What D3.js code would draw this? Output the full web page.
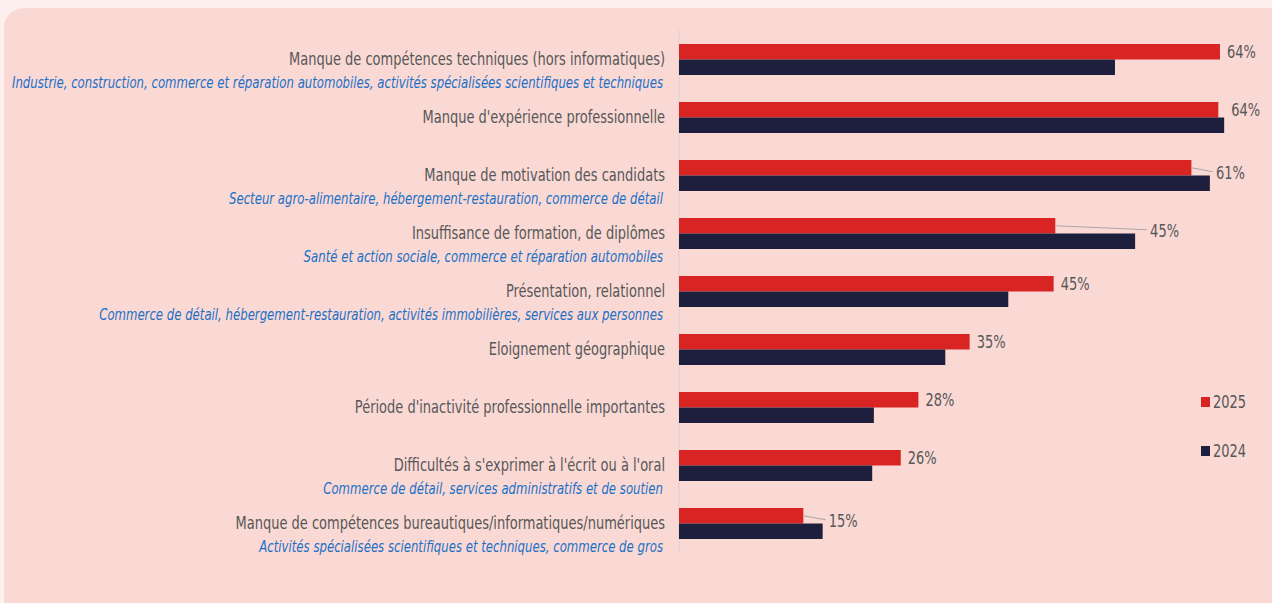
<!DOCTYPE html>
<html>
<head>
<meta charset="utf-8">
<script src="https://cdn.jsdelivr.net/npm/d3@7"></script>
<style>
  html, body { margin: 0; padding: 0; background: #fdf0ee; }
  svg { display: block; }
  .lbl { font-family: "DejaVu Sans Condensed", "DejaVu Sans", sans-serif; }
</style>
</head>
<body>
<svg id="chart" width="1272" height="603"></svg>
<script>
// categories, sub-labels (sectors) and values
var categories = [
  "Manque de compétences techniques (hors informatiques)",
  "Manque d'expérience professionnelle",
  "Manque de motivation des candidats",
  "Insuffisance de formation, de diplômes",
  "Présentation, relationnel",
  "Eloignement géographique",
  "Période d'inactivité professionnelle importantes",
  "Difficultés à s'exprimer à l'écrit ou à l'oral",
  "Manque de compétences bureautiques/informatiques/numériques"
];
var sectors = [
  "Industrie, construction, commerce et réparation automobiles, activités spécialisées scientifiques et techniques",
  "",
  "Secteur agro-alimentaire, hébergement-restauration, commerce de détail",
  "Santé et action sociale, commerce et réparation automobiles",
  "Commerce de détail, hébergement-restauration, activités immobilières, services aux personnes",
  "",
  "",
  "Commerce de détail, services administratifs et de soutien",
  "Activités spécialisées scientifiques et techniques, commerce de gros"
];
var values2025 = [64.4, 64.2, 61.0, 44.8, 44.6, 34.6, 28.5, 26.4, 14.8];
var values2024 = [51.9, 64.9, 63.2, 54.3, 39.2, 31.7, 23.2, 23.0, 17.1];
var labels2025 = ["64%", "64%", "61%", "45%", "45%", "35%", "28%", "26%", "15%"];
var seriesNames = ["2025", "2024"];
var seriesColors = ["#d92424", "#1e1f3d"];

var squeeze = 0.85;     // the original font is narrower than what we have
var squeezeIt = 0.79;   // italic one even more

var svg = d3.select("#chart");

// pink card
svg.append("rect")
  .attr("x", 4).attr("y", 8)
  .attr("width", 1300).attr("height", 640)
  .attr("rx", 20).attr("ry", 20)
  .attr("fill", "#fad9d5");

var x0 = 679;
var x = d3.scaleLinear().domain([0, 100]).range([x0, x0 + 840]);

var y = d3.scaleBand()
  .domain(categories)
  .range([44 - 13.5, 44 - 13.5 + 58 * 9])
  .paddingInner(13.5 * 2 / 58)
  .paddingOuter(13.5 / 58);

var bh = y.bandwidth() / 2;

function place(sel, px, py, k) {
  sel.attr("transform", function(d, i) {
    return "translate(" + px(d, i) + "," + py(d, i) + ") scale(" + k + ",1)";
  });
}

// axis line
svg.append("line")
  .attr("x1", x0).attr("x2", x0)
  .attr("y1", 30).attr("y2", 552)
  .attr("stroke", "#d8d0d0")
  .attr("stroke-width", 1);

var g = svg.selectAll(".grp")
  .data(categories)
  .enter().append("g")
  .attr("class", "grp");

g.append("rect")
  .attr("x", x0)
  .attr("y", function(d) { return y(d); })
  .attr("width", function(d, i) { return x(values2025[i]) - x0; })
  .attr("height", bh)
  .attr("fill", seriesColors[0]);

g.append("rect")
  .attr("x", x0)
  .attr("y", function(d) { return y(d) + bh; })
  .attr("width", function(d, i) { return x(values2024[i]) - x0; })
  .attr("height", bh)
  .attr("fill", seriesColors[1]);

// category labels
g.append("text")
  .attr("class", "lbl")
  .attr("dy", "0.35em")
  .attr("text-anchor", "end")
  .attr("font-size", 17)
  .attr("fill", "#575757")
  .text(function(d) { return d; })
  .call(place, function() { return 665; }, function(d) { return y(d) + bh; }, squeeze);

g.filter(function(d, i) { return sectors[i] != ""; })
  .append("text")
  .attr("class", "lbl")
  .attr("dy", "0.35em")
  .attr("text-anchor", "end")
  .attr("font-size", 16.5)
  .attr("font-style", "italic")
  .attr("fill", "#1a70c6")
  .text(function(d) { return sectors[categories.indexOf(d)]; })
  .call(place, function() { return 663; }, function(d) { return y(d) + bh + 23; }, squeezeIt);

// value labels for 2025, pushed right of the longer bar with a leader line
g.each(function(d, i) {
  var grp = d3.select(this);
  var endRed = x(values2025[i]);
  var endNavy = x(values2024[i]);
  var yc = y(d) + bh / 2;
  var lx, ly;
  if (endNavy - endRed > 10) {
    lx = endNavy + (i == 3 ? 15 : 6);
    ly = yc + 5;
    grp.append("line")
      .attr("x1", endRed).attr("y1", yc)
      .attr("x2", lx - 3).attr("y2", ly - 1)
      .attr("stroke", "#a9a5a5")
      .attr("stroke-width", 1.2);
  } else {
    lx = Math.max(endRed, endNavy) + 7;
    ly = yc;
  }
  grp.append("text")
    .attr("class", "lbl")
    .attr("dy", "0.35em")
    .attr("font-size", 17)
    .attr("fill", "#575757")
    .text(labels2025[i])
    .attr("transform", "translate(" + lx + "," + ly + ") scale(" + squeeze + ",1)");
});

// legend
var leg = svg.selectAll(".leg")
  .data(seriesNames)
  .enter().append("g")
  .attr("class", "leg")
  .attr("transform", function(d, i) { return "translate(1201," + (397 + i * 49) + ")"; });

leg.append("rect")
  .attr("width", 9).attr("height", 10)
  .attr("fill", function(d, i) { return seriesColors[i]; });

leg.append("text")
  .attr("class", "lbl")
  .attr("dy", "0.35em")
  .attr("font-size", 17)
  .attr("fill", "#575757")
  .text(function(d) { return d; })
  .call(place, function() { return 12; }, function() { return 5; }, squeeze);
</script>
</body>
</html>
